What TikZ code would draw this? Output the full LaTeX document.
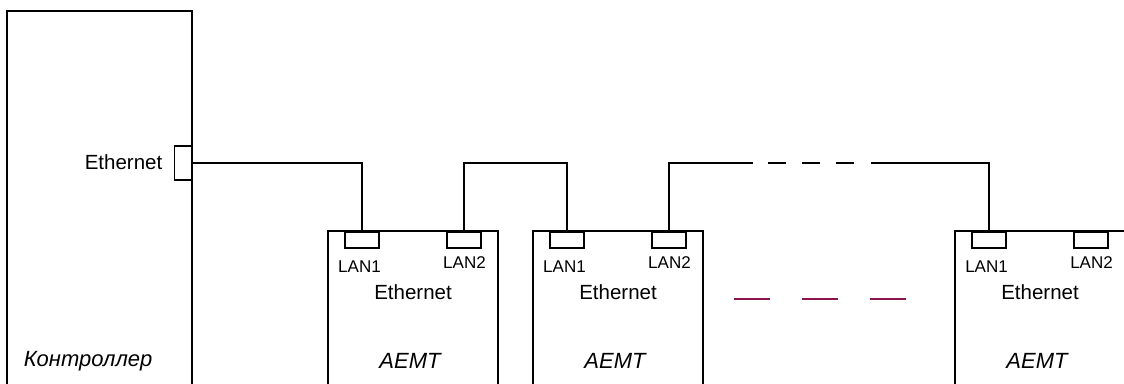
\documentclass[tikz,border=0pt]{standalone}
\usepackage{fontspec}
\setmainfont{Liberation Sans}
\definecolor{gapred}{RGB}{140,20,80}
\begin{document}
\begin{tikzpicture}[x = 1pt, y = -1pt, line width = 1.5pt,
    port/.style = {draw, shape = rectangle, minimum width = 34pt,
                   minimum height = 16pt, inner sep = 0pt},
    lbl/.style = {font = \fontsize{17}{17}\selectfont, inner sep = 0pt},
    txt/.style = {font = \fontsize{20.5}{20.5}\selectfont, inner sep = 0pt},
    ital/.style = {font = \fontsize{22}{22}\selectfont\itshape, inner sep = 0pt}]
  \useasboundingbox (0,0) rectangle (1124,383);
  \clip (0,0) rectangle (1124,383);
  % controller
  \draw (7,400) -- (7,11) -- (192,11) -- (192,400);
  \node[port, minimum width = 17pt, minimum height = 34pt, anchor = east]
    (eth) at (192,163) {};
  \node[txt, anchor = east] (ethlbl) at (163,162) {Ethernet};
  \node[ital, anchor = west] (ctrl) at (23,361) {Контроллер};
  % AEMT units
  \foreach \n/\x in {1/328, 2/533, 3/955}
  {
    \draw (\x,400) -- (\x,231) -- (\x+170,231) -- (\x+170,400);
    \node[port, anchor = north] (a\n) at (\x+34,231) {};
    \node[port, anchor = north] (b\n) at (\x+136,231) {};
    \node[lbl] (la\n) at (\x+31.5,267) {LAN1};
    \node[lbl] (lb\n) at (\x+136.5,263) {LAN2};
    \node[txt] (e\n) at (\x+85,292) {Ethernet};
    \node[ital] (u\n) at (\x+82,361) {AEMT};
  }
  % links
  \coordinate (gapL) at (753,163);
  \coordinate (gapR) at (871,163);
  \draw (eth.east) -| (a1.north);
  \draw (b1.north) -- ++(0,-68) -| (a2.north);
  \draw (b2.north) |- (gapL);
  \draw[dash pattern = on 18pt off 16pt] (768,163) -- (854,163);
  \draw (gapR) -| (a3.north);
  % more units
  \draw[gapred, dash pattern = on 36pt off 32pt] (734,299) -- (906,299);
\end{tikzpicture}
\end{document}
